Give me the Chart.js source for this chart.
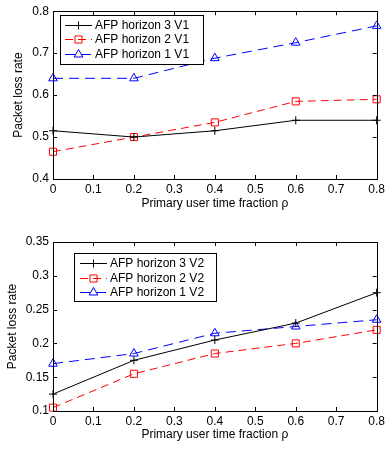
<!DOCTYPE html>
<html>
<head>
<meta charset="utf-8">
<script src="https://cdn.jsdelivr.net/npm/chart.js@4.4.0/dist/chart.umd.min.js"></script>
<style>
  html, body { margin: 0; padding: 0; background: #fff; }
  canvas { display: block; }
</style>
</head>
<body>
<canvas id="chartV1" width="388" height="225"></canvas>
<canvas id="chartV2" width="388" height="224"></canvas>
<script>
// Primary user time fraction (x)
const rho = [0, 0.2, 0.4, 0.6, 0.8];
const xTicks = [0, 0.1, 0.2, 0.3, 0.4, 0.5, 0.6, 0.7, 0.8];

// Top panel (V1)
const v1Labels = ['AFP horizon 3 V1', 'AFP horizon 2 V1', 'AFP horizon 1 V1'];
const v1Horizon3 = [0.515, 0.500, 0.515, 0.540, 0.540];
const v1Horizon2 = [0.465, 0.500, 0.535, 0.585, 0.590];
const v1Horizon1 = [0.640, 0.640, 0.688, 0.725, 0.765];
const v1YTicks = [0.4, 0.5, 0.6, 0.7, 0.8];

// Bottom panel (V2)
const v2Labels = ['AFP horizon 3 V2', 'AFP horizon 2 V2', 'AFP horizon 1 V2'];
const v2Horizon3 = [0.125, 0.175, 0.205, 0.230, 0.275];
const v2Horizon2 = [0.105, 0.155, 0.185, 0.200, 0.220];
const v2Horizon1 = [0.170, 0.185, 0.215, 0.225, 0.235];
const v2YTicks = [0.1, 0.15, 0.2, 0.25, 0.3, 0.35];

const FONT = 'Liberation Sans, Arial, Helvetica, sans-serif';

function toPoints(ys) {
    return rho.map((x, i) => ({ x: x, y: ys[i] }));
}

function makeDatasets(labels, h3, h2, h1) {
    return [{
        label: labels[0],
        data: toPoints(h3),
        borderColor: '#000000',
        borderWidth: 1,
        pointStyle: 'cross',
        pointRadius: 4,
        pointBorderWidth: 1,
        pointBorderColor: '#000000',
        pointBackgroundColor: 'rgba(0,0,0,0)',
        tension: 0,
        clip: false
    }, {
        label: labels[1],
        data: toPoints(h2),
        borderColor: '#ff0000',
        borderWidth: 1,
        borderDash: [8, 5],
        pointStyle: 'rect',
        pointRadius: 5,
        pointBorderWidth: 1,
        pointBorderColor: '#ff0000',
        pointBackgroundColor: 'rgba(0,0,0,0)',
        tension: 0,
        clip: false
    }, {
        label: labels[2],
        data: toPoints(h1),
        borderColor: '#0000ff',
        borderWidth: 1,
        borderDash: [10, 6],
        pointStyle: 'triangle',
        pointRadius: 5,
        pointBorderWidth: 1,
        pointBorderColor: '#0000ff',
        pointBackgroundColor: 'rgba(0,0,0,0)',
        tension: 0,
        clip: false
    }];
}

// matlab style box with inward ticks on all sides, plus legend inside the axes
const matlabBox = {
    id: 'matlabBox',
    afterDraw(chart, args, opts) {
        const ctx = chart.ctx;
        const a = chart.chartArea;
        const xs = chart.scales.x, ys = chart.scales.y;
        ctx.save();
        ctx.strokeStyle = '#000';
        ctx.lineWidth = 1;
        ctx.setLineDash([]);
        ctx.strokeRect(Math.round(a.left) + 0.5, Math.round(a.top) + 0.5,
            Math.round(a.right - a.left), Math.round(a.bottom - a.top));
        const tl = 4;
        ctx.beginPath();
        xs.ticks.forEach(t => {
            const px = Math.round(xs.getPixelForValue(t.value)) + 0.5;
            ctx.moveTo(px, a.bottom); ctx.lineTo(px, a.bottom - tl);
            ctx.moveTo(px, a.top); ctx.lineTo(px, a.top + tl);
        });
        ys.ticks.forEach(t => {
            const py = Math.round(ys.getPixelForValue(t.value)) + 0.5;
            ctx.moveTo(a.left, py); ctx.lineTo(a.left + tl, py);
            ctx.moveTo(a.right, py); ctx.lineTo(a.right - tl, py);
        });
        ctx.stroke();

        // legend
        const L = opts.legend;
        ctx.fillStyle = '#fff';
        ctx.fillRect(L.x, L.y, L.w, L.h);
        ctx.strokeRect(L.x + 0.5, L.y + 0.5, L.w, L.h);
        ctx.font = '12px ' + FONT;
        ctx.textBaseline = 'middle';
        chart.data.datasets.forEach((ds, i) => {
            const cy = Math.round(L.y + L.first + i * L.row) + 0.5;
            ctx.strokeStyle = ds.borderColor;
            ctx.setLineDash(ds.borderDash || []);
            ctx.beginPath();
            ctx.moveTo(L.x + L.s1, cy);
            ctx.lineTo(L.x + L.s2, cy);
            ctx.stroke();
            ctx.setLineDash([]);
            ctx.fillStyle = 'rgba(0,0,0,0)';
            Chart.helpers.drawPoint(ctx, {
                pointStyle: ds.pointStyle,
                radius: ds.pointRadius,
                rotation: 0,
                borderWidth: 1
            }, (L.x + (L.s1 + L.s2) / 2), cy);
            ctx.fillStyle = '#000';
            ctx.fillText(ds.label, L.x + L.tx, cy);
        });
        ctx.restore();
    }
};

function makeChart(id, datasets, yMin, yMax, yTicks, cfg) {
    return new Chart(document.getElementById(id).getContext('2d'), {
        type: 'line',
        data: { datasets: datasets },
        options: {
            responsive: false,
            animation: false,
            layout: { padding: { top: cfg.padTop, right: 8, left: 0, bottom: 0 } },
            plugins: {
                legend: { display: false },
                tooltip: { enabled: false },
                matlabBox: { legend: cfg.legend }
            },
            scales: {
                x: {
                    type: 'linear',
                    min: 0,
                    max: 0.8,
                    afterBuildTicks: s => { s.ticks = xTicks.map(v => ({ value: v })); },
                    afterFit: s => { s.height = cfg.xHeight; },
                    grid: { display: false, drawTicks: false },
                    border: { display: false },
                    ticks: {
                        color: '#000',
                        font: { family: FONT, size: 12 },
                        padding: 3,
                        maxRotation: 0,
                        callback: v => String(Math.round(v * 10) / 10)
                    },
                    title: {
                        display: true,
                        text: 'Primary user time fraction \u03c1',
                        color: '#000',
                        font: { family: FONT, size: 12 },
                        padding: { top: 0, bottom: cfg.xTitlePad }
                    }
                },
                y: {
                    type: 'linear',
                    min: yMin,
                    max: yMax,
                    afterBuildTicks: s => { s.ticks = yTicks.map(v => ({ value: v })); },
                    afterFit: s => { s.width = 53; },
                    grid: { display: false, drawTicks: false },
                    border: { display: false },
                    ticks: {
                        color: '#000',
                        font: { family: FONT, size: 12 },
                        padding: 4,
                        callback: v => String(Math.round(v * 100) / 100)
                    },
                    title: {
                        display: true,
                        text: 'Packet loss rate',
                        color: '#000',
                        font: { family: FONT, size: 12 },
                        padding: { top: cfg.yTitlePad, bottom: 0 }
                    }
                }
            }
        },
        plugins: [matlabBox]
    });
}

window.chartV1 = makeChart('chartV1',
    makeDatasets(v1Labels, v1Horizon3, v1Horizon2, v1Horizon1),
    0.4, 0.8, v1YTicks, {
        padTop: 11, xHeight: 46, xTitlePad: 14, yTitlePad: 11,
        legend: { x: 60, y: 15, w: 143, h: 49, first: 9.5, row: 14.5, s1: 5, s2: 32, tx: 35 }
    });

window.chartV2 = makeChart('chartV2',
    makeDatasets(v2Labels, v2Horizon3, v2Horizon2, v2Horizon1),
    0.1, 0.35, v2YTicks, {
        padTop: 17, xHeight: 38, xTitlePad: 7, yTitlePad: 5,
        legend: { x: 74, y: 28, w: 142, h: 48, first: 10, row: 14.5, s1: 6, s2: 33, tx: 36 }
    });
</script>
</body>
</html>
